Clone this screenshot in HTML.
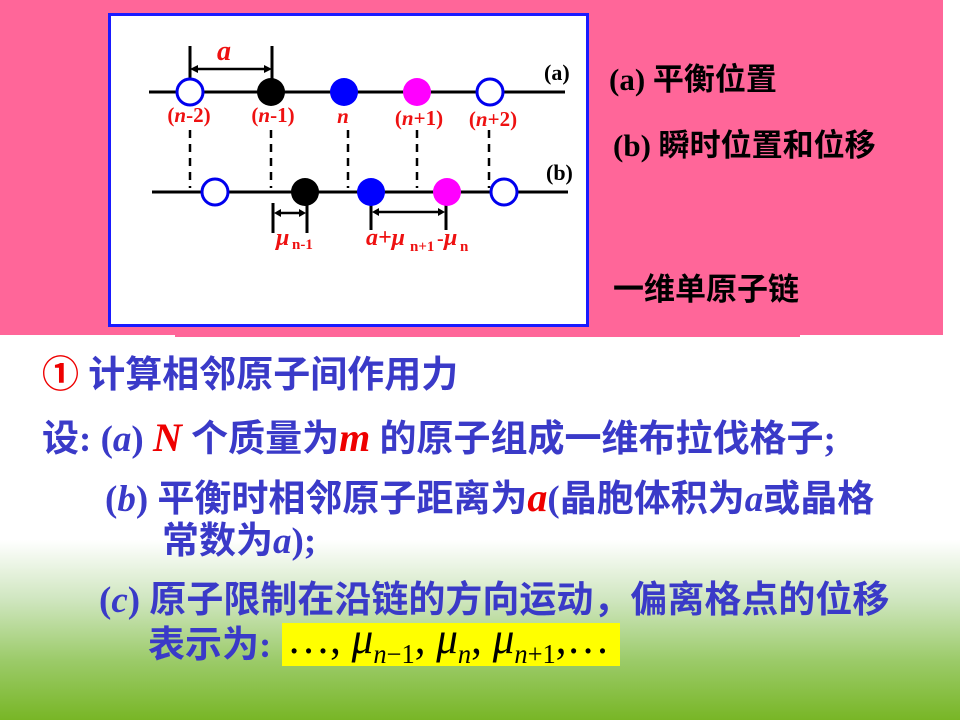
<!DOCTYPE html>
<html><head><meta charset="utf-8"><style>
html,body{margin:0;padding:0}
body{width:960px;height:720px;position:relative;overflow:hidden;
background:linear-gradient(to bottom,#fff 0px,#fff 540px,#cfe6bf 600px,#9ccb6a 660px,#78b626 720px);
font-family:"Liberation Serif","Noto Serif CJK SC",serif}
.pink{position:absolute;left:0;top:0;width:943px;height:335px;background:#ff6699}
.t{position:absolute;white-space:nowrap;font-weight:bold;transform-origin:0 0;line-height:1.4}
.blue{color:#3a3ac8;font-family:"Liberation Serif","Noto Sans CJK SC",sans-serif}
.k{color:#000;font-family:"Liberation Serif","Noto Sans CJK SC",sans-serif;font-size:31px}
i{font-family:"Liberation Serif",serif}
.r{color:#e00}
</style></head><body>
<div class="pink"></div>
<div style="position:absolute;left:175px;top:333px;width:625px;height:4px;background:#ff6699"></div>
<svg style="position:absolute;left:0;top:0" width="960" height="340">
<rect x="109.5" y="14.5" width="478" height="311" fill="#fff" stroke="#1a1aff" stroke-width="3"/>
<g stroke="#000" stroke-width="3">
<line x1="149" y1="92" x2="565" y2="92"/>
<line x1="152" y1="192" x2="568" y2="192"/>
<line x1="190" y1="46" x2="190" y2="85"/><line x1="272" y1="46" x2="272" y2="85"/>
<line x1="196" y1="69" x2="266" y2="69" stroke-width="2.5"/>
<g stroke-dasharray="8,6" stroke-width="2.5">
<line x1="190" y1="130" x2="190" y2="188"/><line x1="271" y1="130" x2="271" y2="188"/>
<line x1="348" y1="130" x2="348" y2="188"/><line x1="417" y1="130" x2="417" y2="188"/>
<line x1="489" y1="130" x2="489" y2="188"/></g>
<line x1="273" y1="203" x2="273" y2="233"/><line x1="307" y1="203" x2="307" y2="233"/>
<line x1="278" y1="213" x2="302" y2="213" stroke-width="2.5"/>
<line x1="371" y1="203" x2="371" y2="230"/><line x1="446" y1="203" x2="446" y2="230"/>
<line x1="376" y1="212" x2="441" y2="212" stroke-width="2.5"/>
</g>
<g fill="#000">
<path d="M190,69 l8,-4 v8z"/><path d="M272,69 l-8,-4 v8z"/>
<path d="M274,213 l7,-4 v8z"/><path d="M306,213 l-7,-4 v8z"/>
<path d="M372,212 l7,-4 v8z"/><path d="M445,212 l-7,-4 v8z"/>
</g>
<circle cx="190" cy="92" r="13" fill="#fff" stroke="#0000ee" stroke-width="3"/>
<circle cx="271" cy="92" r="14" fill="#000"/>
<circle cx="344" cy="92" r="14" fill="#0000ff"/>
<circle cx="417" cy="92" r="14" fill="#ff00ff"/>
<circle cx="490" cy="92" r="13" fill="#fff" stroke="#0000ee" stroke-width="3"/>
<circle cx="215" cy="192" r="13" fill="#fff" stroke="#0000ee" stroke-width="3"/>
<circle cx="305" cy="192" r="14" fill="#000"/>
<circle cx="371" cy="192" r="14" fill="#0000ff"/>
<circle cx="447" cy="192" r="14" fill="#ff00ff"/>
<circle cx="504" cy="192" r="13" fill="#fff" stroke="#0000ee" stroke-width="3"/>
<g font-family="Liberation Serif" font-weight="bold" fill="#ee1111" font-size="21">
<text x="224" y="60" font-size="28" font-style="italic" text-anchor="middle">a</text>
<text x="189" y="122" text-anchor="middle">(<tspan font-style="italic">n</tspan>-2)</text>
<text x="273" y="122" text-anchor="middle">(<tspan font-style="italic">n</tspan>-1)</text>
<text x="343" y="123" text-anchor="middle" font-style="italic">n</text>
<text x="419" y="125" text-anchor="middle">(<tspan font-style="italic">n</tspan>+1)</text>
<text x="493" y="126" text-anchor="middle">(<tspan font-style="italic">n</tspan>+2)</text>
<text x="276" y="245" font-style="italic" font-size="24">μ</text><text x="292" y="249" font-size="15">n-1</text>
<text x="366" y="245" font-style="italic" font-size="24">a+μ</text><text x="410" y="251" font-size="15">n+1</text>
<text x="437" y="245" font-size="20">-</text><text x="444" y="245" font-style="italic" font-size="24">μ</text><text x="460" y="251" font-size="15">n</text>
</g>
<g font-family="Liberation Serif" font-weight="bold" font-size="22" fill="#000">
<text x="544" y="80">(a)</text><text x="546" y="180">(b)</text>
</g>
</svg>
<div class="t k" style="left:609px;top:58px">(a) 平衡位置</div>
<div class="t k" style="left:613px;top:124px">(b) 瞬时位置和位移</div>
<div class="t k" style="left:613px;top:268px">一维单原子链</div>

<div class="t blue" style="left:42px;top:350px;font-size:37px"><span class="r">①</span> 计算相邻原子间作用力</div>
<div class="t blue" style="left:42px;top:410px;font-size:37px">设: (<i>a</i>) <i class="r" style="font-size:40px">N</i> 个质量为<i class="r" style="font-size:40px">m</i> 的原子组成一维布拉伐格子;</div>
<div class="t blue" style="left:105px;top:470px;font-size:37px">(<i>b</i>) 平衡时相邻原子距离为<i class="r" style="font-size:40px">a</i>(晶胞体积为<i>a</i>或晶格</div>
<div class="t blue" style="left:162px;top:516px;font-size:37px">常数为<i>a</i>);</div>
<div class="t blue" style="left:99px;top:575px;font-size:37px">(<i>c</i>) 原子限制在沿链的方向运动，偏离格点的位移</div>
<div class="t blue" style="left:148px;top:620px;font-size:37px">表示为:</div>
<div style="position:absolute;left:282px;top:623px;width:338px;height:43px;background:#ffff00"></div>
<div class="t" style="left:287px;top:608px;font-size:44px;color:#000;font-weight:normal;font-family:'Liberation Serif',serif;transform:scaleX(0.98)">…, <i>μ</i><sub style="font-size:27px"><i>n</i>−1</sub>, <i>μ</i><sub style="font-size:27px"><i>n</i></sub>, <i>μ</i><sub style="font-size:27px"><i>n</i>+1</sub>,…</div>
</body></html>
